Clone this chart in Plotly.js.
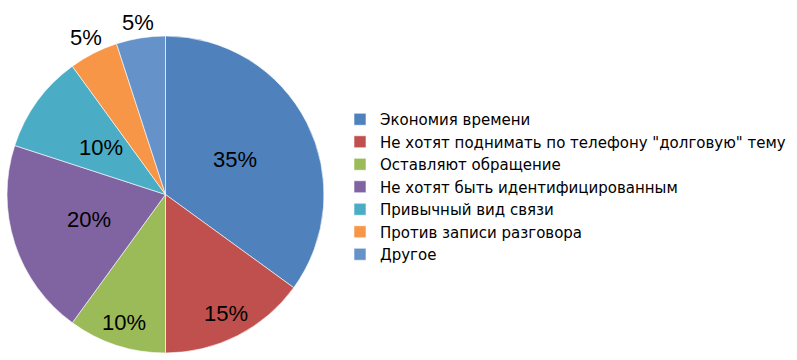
<!DOCTYPE html>
<html><head><meta charset="utf-8">
<script src="https://cdn.plot.ly/plotly-3.0.1.min.js"></script>
<style>html,body{margin:0;padding:0;background:#fff}#c{width:797px;height:360px}</style>
</head><body><div id="c"></div>
<script>
const categories = ["Экономия времени", "Не хотят поднимать по телефону \"долговую\" тему", "Оставляют обращение", "Не хотят быть идентифицированным", "Привычный вид связи", "Против записи разговора", "Другое"];
const values = [35, 15, 10, 20, 10, 5, 5];
const colors = ["#4F81BD", "#C0504D", "#9BBB59", "#8064A2", "#4BACC6", "#F79646", "#6592C9"];
// label distance from centre, as a fraction of the pie radius (style)
const labelRadius = [0.49, 0.84, 0.85, 0.51, 0.50, 1.11, 1.10];

const W = 797, H = 360;
const dom = {x: [7/W, 324/W], y: [1 - 353/H, 1 - 36/H]};

const trace = {
  type: "pie",
  labels: categories,
  values: values,
  sort: false,
  direction: "clockwise",
  rotation: 0,
  marker: {colors: colors, line: {color: "#ffffff", width: 0.6}},
  textinfo: "none",
  hoverinfo: "label+percent",
  domain: dom
};

// data labels placed along each slice's bisector
const total = values.reduce((a, b) => a + b, 0);
const cx = (dom.x[0] + dom.x[1]) / 2, cy = (dom.y[0] + dom.y[1]) / 2;
const R = Math.min((dom.x[1] - dom.x[0]) * W, (dom.y[1] - dom.y[0]) * H) / 2;
let cum = 0;
const annotations = values.map((v, i) => {
  const mid = (cum + v / 2) / total * 2 * Math.PI;
  cum += v;
  const r = R * labelRadius[i];
  return {
    xref: "paper", yref: "paper",
    x: cx + r * Math.sin(mid) / W,
    y: cy + r * Math.cos(mid) / H,
    xanchor: "center", yanchor: "middle",
    text: Math.round(v / total * 100) + "%",
    showarrow: false,
    font: {family: "Liberation Sans, Arial, sans-serif", size: 22, color: "#000"}
  };
});

const layout = {
  width: W, height: H,
  margin: {l: 0, r: 0, t: 0, b: 0},
  paper_bgcolor: "#fff",
  showlegend: true,
  annotations: annotations,
  legend: {x: 340/W, xanchor: "left", y: 1 - 187/H, yanchor: "middle",
    font: {family: "DejaVu Sans, sans-serif", size: 15, color: "#000"},
    traceorder: "normal", bgcolor: "rgba(0,0,0,0)"},
};
Plotly.newPlot("c", [trace], layout, {displayModeBar: false, staticPlot: true});
</script></body></html>
